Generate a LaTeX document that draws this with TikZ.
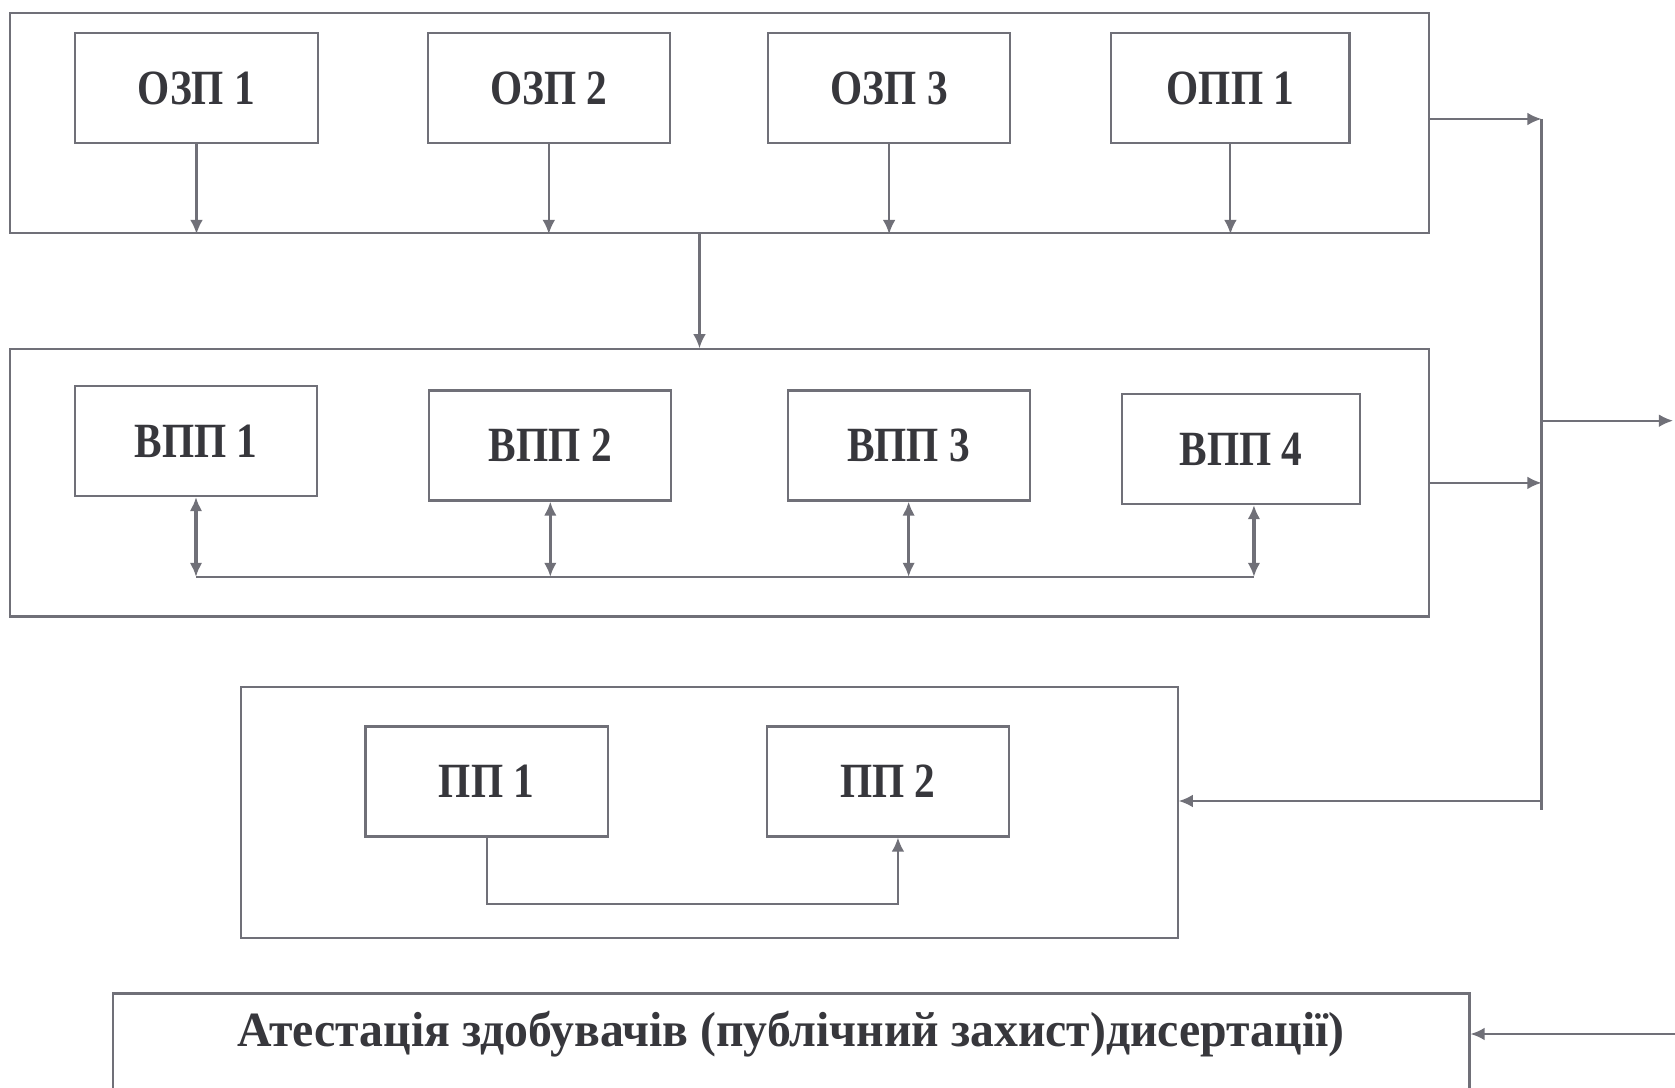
\documentclass[tikz,border=0pt]{standalone}
\usepackage{fontspec}
\setmainfont{Liberation Serif}
\newfontfamily\narrowserif[FakeStretch=0.84]{Liberation Serif}
\newfontfamily\atestserif[FakeStretch=0.97]{Liberation Serif}
\usetikzlibrary{arrows.meta,positioning}
\definecolor{linegray}{RGB}{112,112,120}
\definecolor{textgray}{RGB}{55,55,60}

\begin{document}
\begin{tikzpicture}[
    x=0.01cm, y=-0.01cm,
    node distance=1.0cm,
    frame/.style={draw=linegray,line width=0.6pt,inner sep=0},
    box/.style={draw=linegray,line width=0.6pt,minimum width=2.42cm,minimum height=1.1cm,inner sep=0,text=textgray,font=\narrowserif\bfseries\fontsize{14}{16}\selectfont},
    arrow/.style={draw=linegray,line width=0.6pt,-{Latex[length=4pt,width=3.6pt]}},
    biarrow/.style={draw=linegray,line width=0.9pt,{Latex[length=4pt,width=3.6pt]}-{Latex[length=4pt,width=3.6pt]}},
    line/.style={draw=linegray,line width=0.6pt}
  ]
    \useasboundingbox (0,0) rectangle (1675,1088);
    \fill[white] (0,0) rectangle (1675,1088);

    % outer frames
    \node[frame,minimum width=14.18cm,minimum height=2.20cm] (obov) at (719.5,122.9) {};
    \node[frame,minimum width=14.18cm,minimum height=2.67cm] (vybir) at (719.5,482.9) {};
    \node[frame,minimum width=9.36cm,minimum height=2.51cm] (prakt) at (709.4,812.5) {};
    \node[frame,minimum width=13.56cm,minimum height=1.40cm] (atestbox) at (791.1,1063.5) {};
    \node[text=textgray,font=\atestserif\bfseries\fontsize{14}{16}\selectfont] (atest) at (791,1034) {Атестація здобувачів (публічний захист)дисертації)};

    % components
    \node[box] (ozp1) at (196.5,88.1) {ОЗП 1};
    \node[box,right=1.08cm of ozp1] (ozp2) {ОЗП 2};
    \node[box,right=0.96cm of ozp2] (ozp3) {ОЗП 3};
    \node[box,right=0.99cm of ozp3,minimum width=2.38cm] (opp1) {ОПП 1};

    \node[box] (vpp1) at (196,441) {ВПП 1};
    \node[box,right=1.10cm of vpp1,yshift=-0.045cm] (vpp2) {ВПП 2};
    \node[box,right=1.14cm of vpp2] (vpp3) {ВПП 3};
    \node[box,right=0.90cm of vpp3,yshift=-0.035cm,minimum width=2.38cm] (vpp4) {ВПП 4};

    \node[box] (pp1) at (486.6,781.5) {ПП 1};
    \node[box,right=1.57cm of pp1] (pp2) {ПП 2};

    % links
    \draw[arrow] (ozp1.south) -- (ozp1.south |- obov.south);
    \draw[arrow] (ozp2.south) -- (ozp2.south |- obov.south);
    \draw[arrow] (ozp3.south) -- (ozp3.south |- obov.south);
    \draw[arrow] (opp1.south) -- (opp1.south |- obov.south);
    \draw[arrow] ([xshift=-0.2cm]obov.south) -- ([xshift=-0.2cm]vybir.north);

    \coordinate (bus) at (0,576.9);
    \draw[biarrow] (vpp1.south) -- (vpp1.south |- bus);
    \draw[biarrow] (vpp2.south) -- (vpp2.south |- bus);
    \draw[biarrow] (vpp3.south) -- (vpp3.south |- bus);
    \draw[biarrow] ([xshift=0.13cm]vpp4.south) -- ([xshift=0.13cm]vpp4.south |- bus);
    \draw[line] (vpp1.south |- bus) -- ([xshift=0.13cm]vpp4.south |- bus);

    \draw[arrow] (pp1.south) -- ++(0,66) -| ([xshift=0.1cm]pp2.south);

    \coordinate (sp1) at (1541.5,119);
    \coordinate (sp2) at (1541.5,810);
    \coordinate (sp3) at (1541.5,801);
    \coordinate (vyh) at (1673,420.7);
    \coordinate (vhid) at (1675,1034);
    \draw[line] (sp1) -- (sp2);
    \draw[arrow] (obov.east |- sp1) -- (sp1);
    \draw[arrow] (vybir.east) -- (vybir.east -| sp1);
    \draw[arrow] (sp1 |- vyh) -- (vyh);
    \draw[arrow] (sp3) -- (prakt.east |- sp3);
    \draw[arrow] (vhid) -- (atestbox.east |- vhid);
  \end{tikzpicture}
\end{document}
